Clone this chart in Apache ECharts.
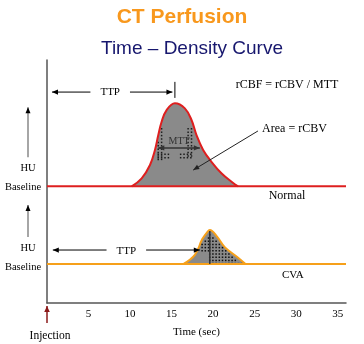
<!DOCTYPE html>
<html>
<head>
<meta charset="utf-8">
<script src="https://cdn.jsdelivr.net/npm/echarts@6/dist/echarts.min.js"></script>
<style>
  html, body { margin: 0; padding: 0; background: #fff; }
  #c { width: 364px; height: 344px; }
</style>
</head>
<body>
<div id="c"></div>
<script>
// Time axis (seconds) and its labelled ticks
const timeTicks = [5, 10, 15, 20, 25, 30, 35];

// Normal tissue: enhancement bump above its baseline
const normalBaseline = 48;
const normalTime = [10.2, 11.4, 12.4, 13.0, 13.4, 13.8, 14.4, 15.4, 16.6, 17.4, 18.0, 18.8, 19.8, 21.0, 22.3, 23.0];
const normalHU   = [48, 51.3, 56.8, 63.0, 69.1, 74.6, 79.4, 82.2, 80.1, 75.3, 69.1, 63.0, 58.1, 53.4, 49.7, 48];

// CVA (stroke) tissue: delayed, smaller bump
const cvaBaseline = 16;
const cvaTime = [16.4, 17.8, 18.7, 19.3, 19.6, 20.5, 21.4, 22.9, 23.9];
const cvaHU   = [16, 19.8, 26.3, 29.2, 30.0, 27.2, 23.0, 18.9, 16];

// Dotted hatch regions [t0, t1, v0, v1, curve] (curve 0 = normal, 1 = CVA)
const hatchRegions = [
  [13.3, 14.0, 58.8, 72, 0],
  [13.3, 14.8, 58.8, 61.5, 0],
  [16.9, 17.6, 59.5, 72, 0],
  [16.0, 17.6, 58.8, 61.5, 0],
  [18.2, 19.5, 21, 31, 1],
  [19.5, 24.0, 16.4, 31, 1]
];

const RED = '#de1f1f';
const ORANGE = '#f6a01a';
const FILL = '#8a8a8a';
const SERIF = '"Liberation Serif", "DejaVu Serif", serif';

function pairs(xs, ys) { return xs.map((x, i) => [x, ys[i]]); }
function interp(xs, ys, t) {
  if (t <= xs[0] || t >= xs[xs.length - 1]) return null;
  for (let i = 1; i < xs.length; i++) {
    if (t <= xs[i]) {
      const f = (t - xs[i - 1]) / (xs[i] - xs[i - 1]);
      return ys[i - 1] + f * (ys[i] - ys[i - 1]);
    }
  }
  return null;
}

const chart = echarts.init(document.getElementById('c'));

chart.setOption({
  animation: false,
  title: [
    {
      text: 'CT Perfusion', left: 'center', top: 2,
      textStyle: { color: '#f8981d', fontSize: 21, fontWeight: 'bold', fontFamily: '"Liberation Sans", Arial, sans-serif' }
    },
    {
      text: 'Time \u2013 Density Curve', left: 96, top: 34,
      textStyle: { color: '#17176e', fontSize: 19, fontWeight: 'normal', fontFamily: '"Liberation Sans", Arial, sans-serif' }
    }
  ],
  grid: { left: 47, right: 18, top: 60, bottom: 41 },
  xAxis: {
    type: 'value', min: 0, max: 36, interval: 5,
    name: 'Time (sec)', nameLocation: 'middle', nameGap: 24,
    nameTextStyle: { color: '#000', fontSize: 11, fontFamily: SERIF },
    axisLine: { lineStyle: { color: '#555', width: 1.5 } },
    axisTick: { show: false },
    splitLine: { show: false },
    axisLabel: {
      color: '#000', fontSize: 11, fontFamily: SERIF, margin: 6,
      formatter: v => (timeTicks.indexOf(v) >= 0 ? String(v) : '')
    }
  },
  yAxis: {
    type: 'value', min: 0, max: 100,
    axisLine: { show: true, lineStyle: { color: '#555', width: 1.5 } },
    axisTick: { show: false },
    axisLabel: { show: false },
    splitLine: { show: false }
  },
  series: [
    {
      type: 'line', data: [[0, normalBaseline], [36, normalBaseline]],
      showSymbol: false, lineStyle: { color: RED, width: 2 }, silent: true
    },
    {
      type: 'line', data: pairs(normalTime, normalHU), smooth: 0.4,
      showSymbol: false, lineStyle: { color: RED, width: 2 },
      areaStyle: { color: FILL, opacity: 1, origin: normalBaseline }, silent: true
    },
    {
      type: 'line', data: [[0, cvaBaseline], [36, cvaBaseline]],
      showSymbol: false, lineStyle: { color: ORANGE, width: 2 }, silent: true
    },
    {
      type: 'line', data: pairs(cvaTime, cvaHU), smooth: 0.4,
      showSymbol: false, lineStyle: { color: ORANGE, width: 2 },
      areaStyle: { color: FILL, opacity: 1, origin: cvaBaseline }, silent: true, z: 2
    },
    {
      // dotted hatching inside the enhancement areas
      type: 'custom', silent: true, z: 3,
      data: hatchRegions,
      renderItem: function (params, api) {
        const t0 = api.value(0), t1 = api.value(1), v0 = api.value(2), v1 = api.value(3), k = api.value(4);
        const xs = k === 0 ? normalTime : cvaTime;
        const ys = k === 0 ? normalHU : cvaHU;
        const tl = api.coord([t0, v1]);
        const br = api.coord([t1, v0]);
        const children = [];
        const step = k === 0 ? 3.4 : 3.2;
        for (let px = tl[0]; px <= br[0]; px += step) {
          for (let py = tl[1]; py <= br[1]; py += step) {
            const t = (px - tl[0]) / (br[0] - tl[0] || 1) * (t1 - t0) + t0;
            const c = interp(xs, ys, t);
            if (c === null) continue;
            const cy = api.coord([t, c])[1];
            if (py < cy + 2.5) continue;
            children.push({ type: 'rect', shape: { x: px, y: py, width: 1.5, height: 1.5 }, style: { fill: '#000', opacity: k === 0 ? 0.8 : 0.9 } });
          }
        }
        return { type: 'group', children: children };
      }
    }
  ]
});

// ---- annotations, placed through the chart's coordinate system ----
function P(t, v) { return chart.convertToPixel({ gridIndex: 0 }, [t, v]); }

function head(tip, from, color, len, wid) {
  const dx = tip[0] - from[0], dy = tip[1] - from[1];
  const d = Math.sqrt(dx * dx + dy * dy) || 1;
  const ux = dx / d, uy = dy / d;
  const bx = tip[0] - ux * len, by = tip[1] - uy * len;
  return {
    type: 'polygon', silent: true, z: 20,
    shape: { points: [tip, [bx - uy * wid, by + ux * wid], [bx + uy * wid, by - ux * wid]] },
    style: { fill: color }
  };
}
function arrow(a, b, opts) {
  const o = Object.assign({ color: '#000', headColor: null, width: 1, start: false, end: true, len: 6, wid: 2.6 }, opts);
  const hc = o.headColor || o.color;
  const els = [{
    type: 'line', silent: true, z: 19,
    shape: { x1: a[0], y1: a[1], x2: b[0], y2: b[1] },
    style: { stroke: o.color, lineWidth: o.width }
  }];
  if (o.end) els.push(head(b, a, hc, o.len, o.wid));
  if (o.start) els.push(head(a, b, hc, o.len, o.wid));
  return els;
}
function label(text, x, y, opts) {
  const o = Object.assign({ size: 12, color: '#000', align: 'center', bg: null, pad: 0 }, opts);
  const style = {
    text: text, x: x, y: y, fill: o.color, align: o.align, verticalAlign: 'middle',
    font: o.size + 'px ' + SERIF
  };
  if (o.bg) { style.backgroundColor = o.bg; style.padding = o.pad; }
  return { type: 'text', silent: true, z: 25, style: style };
}

const g = [];
// Normal TTP arrow with tick at peak
const nA = P(0.6, 86.8), nB = P(15.1, 86.8);
g.push(...arrow(nA, nB, { start: true, end: true }));
g.push(label('TTP', (nA[0] + nB[0]) / 2 - 2, nA[1], { size: 11, bg: '#fff', pad: [0, 10] }));
const pk1 = P(15.4, 91), pk2 = P(15.4, 84.4);
g.push({ type: 'line', silent: true, z: 19, shape: { x1: pk1[0], y1: pk1[1], x2: pk2[0], y2: pk2[1] }, style: { stroke: '#000', lineWidth: 1 } });

// CVA TTP arrow
const cA = P(0.7, 21.8), cB = P(18.4, 21.8);
g.push(...arrow(cA, cB, { start: true, end: true }));
g.push(label('TTP', (cA[0] + cB[0]) / 2, cA[1] + 1, { size: 11, bg: '#fff', pad: [0, 10] }));

// CVA time-to-peak marker
const cv1 = P(19.6, cvaBaseline), cv2 = P(19.6, 29.6);
g.push({ type: 'line', silent: true, z: 19, shape: { x1: cv1[0], y1: cv1[1], x2: cv2[0], y2: cv2[1] }, style: { stroke: '#333', lineWidth: 1.5 } });

// MTT arrow
const mA = P(13.4, 63.8), mB = P(18.4, 63.8);
g.push(...arrow(mA, mB, { start: true, end: true, color: '#333', width: 1.5 }));
g.push(label('MTT', P(15.9, 0)[0], P(0, 66.5)[1], { size: 10, color: '#333' }));

// Area = rCBV
const aA = P(25.4, 70.8), aB = P(17.6, 54.7);
g.push(...arrow(aA, aB, { color: '#222', width: 1, len: 6, wid: 2.5 }));
const aT = P(25.9, 71.8);
g.push(label('Area = rCBV', aT[0], aT[1], { align: 'left' }));

// Formula
const fT = P(28.9, 89.7);
g.push(label('rCBF = rCBV / MTT', fT[0], fT[1]));

// Curve names
const nT = P(28.9, 44);
g.push(label('Normal', nT[0], nT[1]));
const vT = P(29.6, 11.5);
g.push(label('CVA', vT[0], vT[1], { size: 11 }));

// Left-hand HU / Baseline labels with up arrows
const nb = P(0, normalBaseline)[1];
const cb = P(0, cvaBaseline)[1];
g.push(...arrow([28, nb - 29], [28, nb - 79], { color: '#888', headColor: '#000', width: 1.5, len: 6, wid: 2.5 }));
g.push(label('HU', 28, nb - 18, { size: 10.5 }));
g.push(label('Baseline', 23, nb + 1, { size: 10.5 }));
g.push(...arrow([28, cb - 27], [28, cb - 59], { color: '#888', headColor: '#000', width: 1.5, len: 6, wid: 2.5 }));
g.push(label('HU', 28, cb - 16, { size: 10.5 }));
g.push(label('Baseline', 23, cb + 3, { size: 10.5 }));

// Injection marker at t = 0
const o0 = P(0, 0);
g.push(...arrow([o0[0], o0[1] + 20], [o0[0], o0[1] + 3], { color: '#8b1a1a', width: 1.5, len: 6, wid: 2.8 }));
g.push(label('Injection', o0[0] + 3, o0[1] + 33, { size: 11.5 }));

chart.setOption({ graphic: g });
</script>
</body>
</html>
